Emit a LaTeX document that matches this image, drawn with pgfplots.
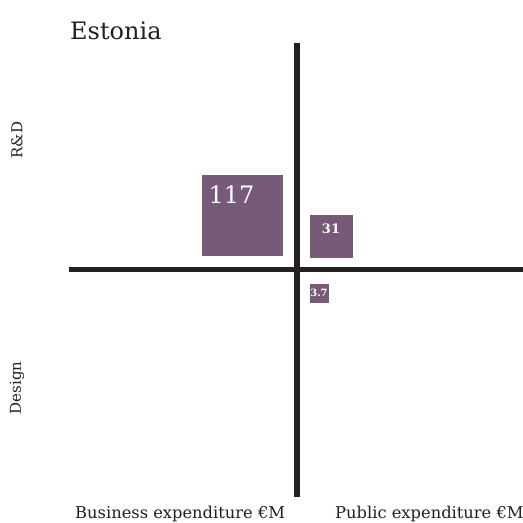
\documentclass[border=0pt]{standalone}
\usepackage{fontspec}
\setmainfont{DejaVu Serif}
\usepackage{pgfplots}
\pgfplotsset{compat=1.18}
\definecolor{sq}{HTML}{775A78}
\definecolor{ink}{HTML}{231F20}

% each square: centre in bp from the cross, [value in EUR M]
\pgfplotsset{
  box/.style={only marks, mark=square*, color=sq, mark options={draw=sq, fill=sq, line width=0pt},
    point meta=explicit, nodes near coords,
    nodes near coords style={anchor=center, text=white, inner sep=0pt}},
}

\begin{document}
\begin{tikzpicture}
\begin{axis}[
  scale only axis, width=454bp, height=454bp,
  xmin=-228, xmax=226, ymin=-227.5, ymax=226.5,
  axis lines*=center,
  axis line style={ink, line width=5.5bp, -},
  xtick=\empty, ytick=\empty,
  clip=false,
  /pgf/number format/assume math mode=true,
]
\addplot[box, mark size=40bp,
  nodes near coords style={xshift=-11bp, yshift=21.4bp, font=\fontsize{24bp}{24bp}\selectfont}]
  coordinates {(-54.5,53.5) [117]};
\addplot[box, mark size=21bp,
  nodes near coords style={yshift=8.4bp, font=\fontsize{13bp}{13bp}\selectfont\bfseries}]
  coordinates {(34,32.8) [31]};
\addplot[box, mark size=9bp,
  nodes near coords style={yshift=1.5bp, font=\fontsize{10bp}{10bp}\selectfont\bfseries}]
  coordinates {(22,-24.5) [3.7]};

\node[anchor=base west, inner sep=0pt, text=ink, font=\fontsize{24bp}{28bp}\selectfont]
  at (axis cs:-227,229.5) {Estonia};
\node[rotate=90, inner sep=0pt, text=ink, font=\fontsize{15bp}{18bp}\selectfont]
  at (axis cs:-280,129.5) {R\&D};
\node[rotate=90, inner sep=0pt, text=ink, font=\fontsize{15bp}{18bp}\selectfont]
  at (axis cs:-280,-118.5) {Design};
\node[anchor=base west, inner sep=0pt, text=ink, font=\fontsize{16.3bp}{19bp}\selectfont]
  at (axis cs:-222,-248.5) {Business expenditure €M};
\node[anchor=base west, inner sep=0pt, text=ink, font=\fontsize{16.3bp}{19bp}\selectfont]
  at (axis cs:38,-248.5) {Public expenditure €M};
\coordinate (bl) at (axis cs:-297,-253.5);
\coordinate (tr) at (axis cs:226,269.5);
\end{axis}
\pgfresetboundingbox
\path (bl) rectangle (tr);
\end{tikzpicture}
\end{document}
